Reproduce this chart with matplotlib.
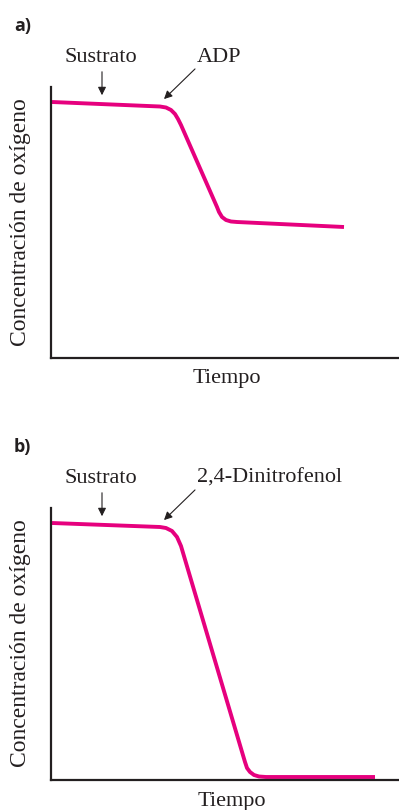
import numpy as np
import matplotlib.pyplot as plt

# curves (arbitrary units: tiempo, concentracion)
t_adp = [1, 49, 109, 115, 120, 124, 127, 130, 166, 168, 171, 175, 180, 186, 293]
c_adp = [256, 254, 251.5, 250.5, 248, 244, 239, 233, 151, 146, 141, 138, 136.5, 136, 131]

t_dnp = [1, 109, 115, 121, 126, 130, 194, 196, 199, 203, 208, 215, 324]
c_dnp = [257, 253, 252, 249, 243, 234, 18, 12, 8, 5, 3.5, 3, 3]

panel_labels = ['a)', 'b)']
agent_labels = ['ADP', '2,4-Dinitrofenol']
ylabel = 'Concentración de oxígeno'
xlabel = 'Tiempo'

W, H = 399, 810
pink = '#E6007E'
ink = '#231F20'
serif = 'Liberation Serif'

fig = plt.figure(figsize=(W / 100, H / 100), dpi=100)

def make_panel(top, bottom, t, c, panel, agent, lab_y, tiempo_x, tiempo_y):
    ax = fig.add_axes([51 / W, (H - bottom) / H, (W - 51) / W, (bottom - top) / H])
    ax.set_xlim(0, W - 51)
    ax.set_ylim(0, bottom - top)
    for s in ['top', 'right']:
        ax.spines[s].set_visible(False)
    for s in ['left', 'bottom']:
        ax.spines[s].set_linewidth(1.6)
        ax.spines[s].set_color(ink)
    ax.set_xticks([])
    ax.set_yticks([])
    ax.plot(t, c, color=pink, lw=2.8, solid_capstyle='butt', solid_joinstyle='round')

    ax.text(50, bottom - top + 25, 'Sustrato', ha='center', va='baseline',
            fontsize=16, family=serif, color=ink)
    ax.annotate('', xy=(51, bottom - top - 11), xytext=(51, bottom - top + 18),
                arrowprops=dict(arrowstyle='-|>', color=ink, lw=0.8, mutation_scale=12))
    ax.text(146, bottom - top + 25, agent, ha='left', va='baseline',
            fontsize=16, family=serif, color=ink)
    ax.annotate('', xy=(111, bottom - top - 14), xytext=(146, bottom - top + 20),
                arrowprops=dict(arrowstyle='-|>', color=ink, lw=0.8, mutation_scale=12))

    fig.text(14 / W, 1 - (top - 70) / H, panel, ha='left', va='top',
             fontsize=13, fontweight='bold', family='Open Sans', color=ink)
    fig.text(21 / W, 1 - lab_y / H, ylabel, rotation=90, ha='center', va='center',
             fontsize=17, family=serif, color=ink)
    fig.text(tiempo_x / W, 1 - tiempo_y / H, xlabel, ha='center', va='top',
             fontsize=16, family=serif, color=ink)
    return ax

make_panel(87, 358, t_adp, c_adp, panel_labels[0], agent_labels[0], 222, 227, 369)
make_panel(508, 780, t_dnp, c_dnp, panel_labels[1], agent_labels[1], 643, 232, 792)

fig.savefig('out.png', dpi=100)
